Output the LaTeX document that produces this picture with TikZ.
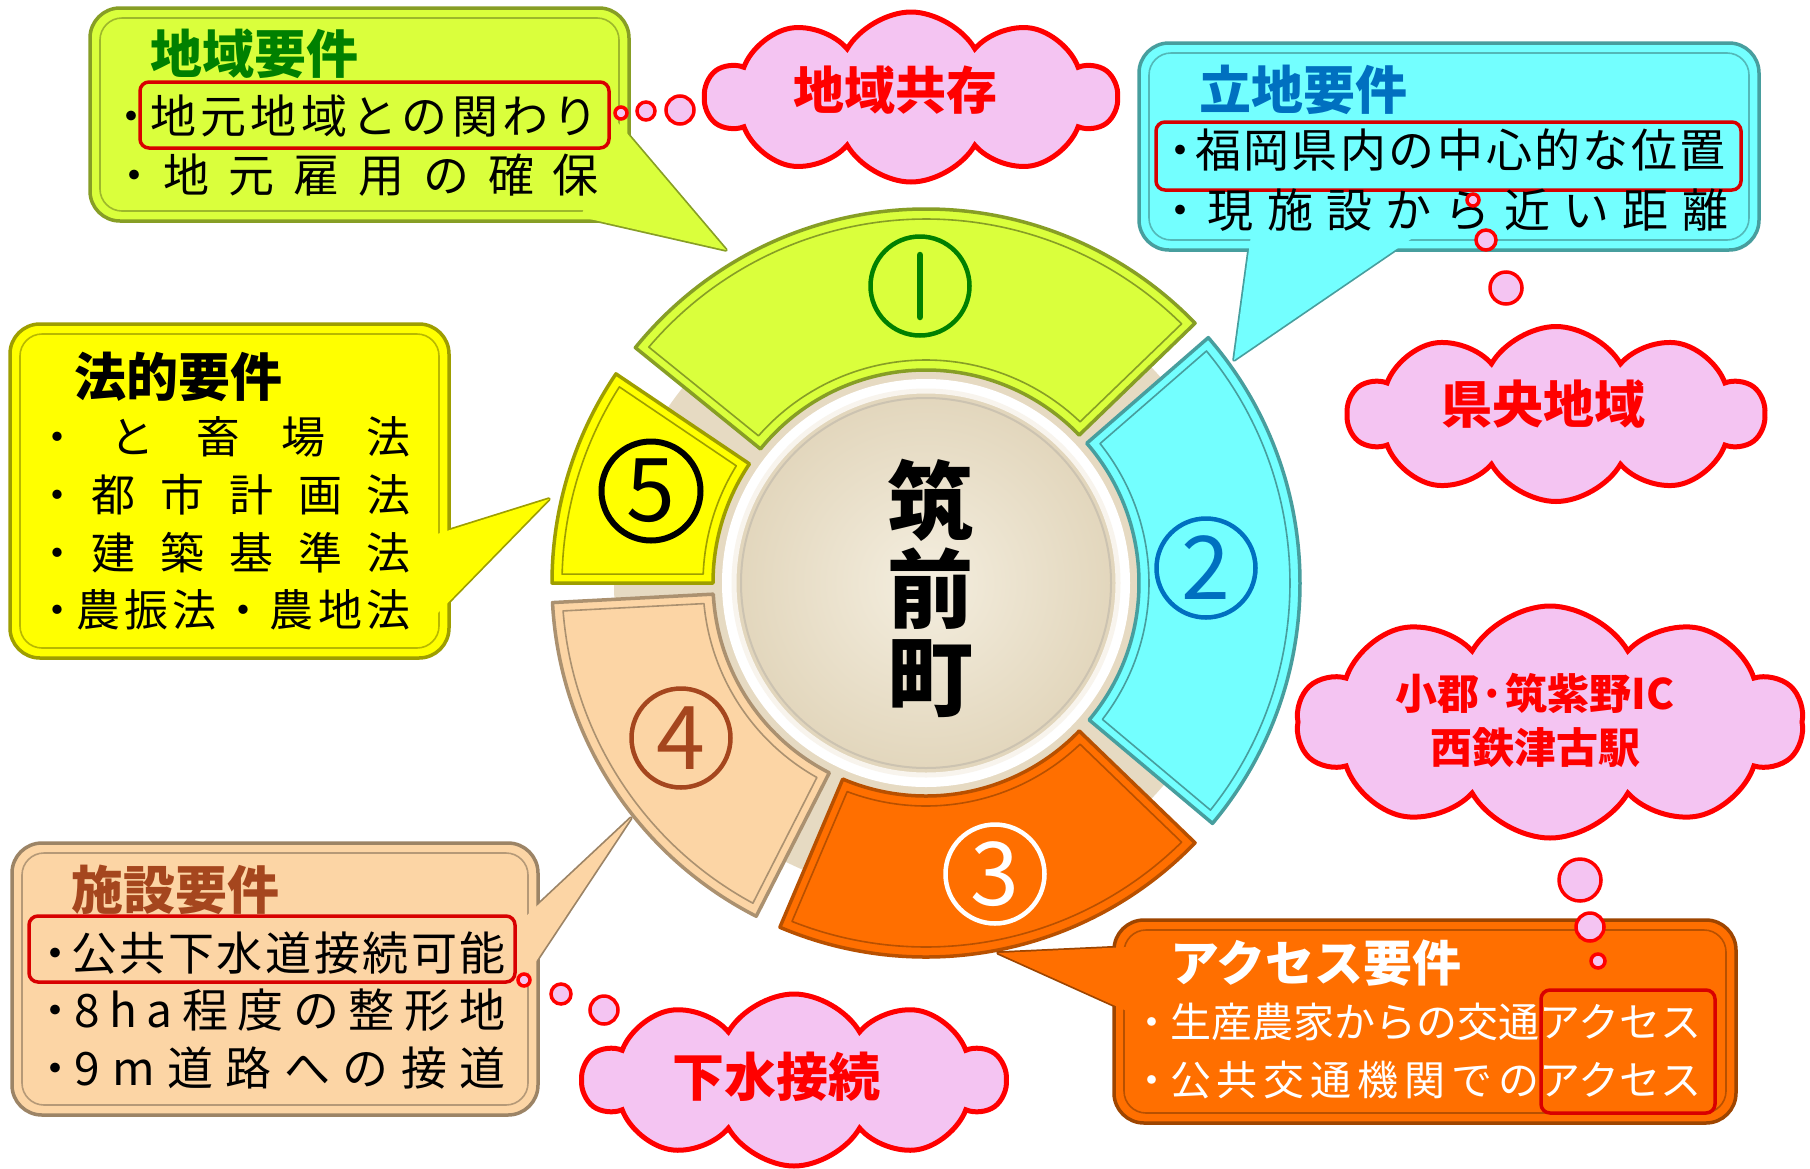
\documentclass[tikz,border=0pt]{standalone}
\usepackage{fontspec}
\setmainfont{Noto Sans CJK JP}
\usetikzlibrary{shapes.symbols,calc}
\definecolor{limeA}{HTML}{DAFF3C}
\definecolor{cyanA}{HTML}{73FFFF}
\definecolor{orangeA}{HTML}{FF6F00}
\definecolor{peachA}{HTML}{FCD5A5}
\definecolor{yellowA}{HTML}{FFFF00}
\definecolor{pinkA}{HTML}{F4C4F2}
\definecolor{redA}{HTML}{FF0000}
\definecolor{beigeA}{HTML}{E6DAC2}
\definecolor{beigeB}{HTML}{F4EEDF}
\definecolor{beigeC}{HTML}{E2D6BC}
\definecolor{greenT}{HTML}{008000}
\definecolor{blueT}{HTML}{0070C0}
\definecolor{brownT}{HTML}{A5461E}
\definecolor{hlred}{HTML}{D80000}
\newcommand{\myfs}[1]{\fontsize{#1}{#1}\selectfont}
\newcommand{\dist}[2]{\makebox[#1pt][s]{#2}}
\newcommand{\bl}[2]{\makebox[#1pt]{・}\hspace{#2pt}}
\newcommand{\ringseg}[4]{%
  \draw[line width=3.5, draw=#4, fill=#3, line join=round]
    ($(C)+({-(#1)}:374)$) arc[start angle={-(#1)}, end angle={-(#2)}, radius=374]
    -- ($(C)+({-(#2)}:213)$) arc[start angle={-(#2)}, end angle={-(#1)}, radius=213] -- cycle;
  \draw[line width=1.6, draw=#4, line join=round]
    ($(C)+({-(#1+1.4)}:364)$) arc[start angle={-(#1+1.4)}, end angle={-(#2-1.4)}, radius=364]
    -- ($(C)+({-(#2-2.3)}:223)$) arc[start angle={-(#2-2.3)}, end angle={-(#1+2.3)}, radius=223] -- cycle;
}
\tikzset{
  cbord/.style={line width=3.5, draw=#1!62!black, fill=#1, line join=round},
  cinner/.style={line width=1.6, draw=#1!72!black, rounded corners=22},
  ln/.style={anchor=west, inner sep=0, outer sep=0},
  ttl/.style={anchor=west, inner sep=0, outer sep=0, font=\myfs{52}\bfseries},
  hl/.style={draw=hlred, line width=3.5, rounded corners=9},
  numring/.style={circle, line width=4.5, minimum size=99, inner sep=0},
  cloudbox/.style={cloud, cloud puffs=10, cloud puff arc=120, draw=redA, line width=5, fill=pinkA, inner sep=0},
  bubble/.style={circle, draw=redA, line width=3.5, fill=pinkA, inner sep=0},
  ctext/.style={inner sep=0, text=redA},
}
\begin{document}
\begin{tikzpicture}[x=1pt,y=-1pt]
\useasboundingbox (0,0) rectangle (1810,1168);
\fill[white] (0,0) rectangle (1810,1168);
\coordinate (C) at (926,583);
% ring background
\fill[beigeA] (C) circle[radius=312];
\fill[white] (C) circle[radius=204];
\shade[inner color=beigeB, outer color=beigeC] (C) circle[radius=190];
\draw[line width=5, draw=white!70!beigeA] (C) circle[radius=192];
\draw[line width=2, draw=beigeA!75!gray] (C) circle[radius=185];
% segments
\ringseg{44}{141}{limeA}{limeA!62!black}
\ringseg{-40}{41}{cyanA}{cyanA!62!black}
\ringseg{-113}{-44}{orangeA}{orangeA!72!black}
\ringseg{183}{243}{peachA}{peachA!68!black}
\ringseg{146}{180}{yellowA}{yellowA!62!black}
% numbers
\node[numring, draw=greenT] (n1) at (920,286) {};
\draw[greenT, line width=6.5, line cap=round] ($(n1.center)+(0,-31)$) -- ($(n1.center)+(0,31)$);
\node[numring, draw=blueT, text=blueT, font=\myfs{88}] (n2) at (1206,568) {2};
\node[numring, draw=white, text=white, font=\myfs{88}] (n3) at (995,874) {3};
\node[numring, draw=brownT, text=brownT, font=\myfs{88}] (n4) at (681,738) {4};
\node[numring, draw=black, text=black, line width=6, font=\myfs{88}] (n5) at (651,491) {5};
% centre
\node[font=\fontsize{86}{88}\selectfont\bfseries, align=center, inner sep=0] (town) at (930,588) {筑\\前\\町};
% callout 1
\draw[cbord=limeA] (614,118) -- (726,250) -- (581,217) -- cycle;
\draw[cbord=limeA, rounded corners=30] (90,8) rectangle (629,221);
\draw[cinner=limeA] (100,18) rectangle (619,211);
\fill[limeA] (614,118) -- (726,250) -- (581,217) -- cycle;
% callout 2
\draw[cbord=cyanA] (1251,235) -- (1234,360) -- (1417,235) -- cycle;
\draw[cbord=cyanA, rounded corners=30] (1139,43) rectangle (1759,250);
\draw[cinner=cyanA] (1149,53) rectangle (1749,240);
\fill[cyanA] (1251,235) -- (1234,360) -- (1417,235) -- cycle;
% callout 5
\draw[cbord=yellowA] (434,535) -- (549,499) -- (434,617) -- cycle;
\draw[cbord=yellowA, rounded corners=30] (10,324) rectangle (449,658);
\draw[cinner=yellowA] (20,334) rectangle (439,648);
\fill[yellowA] (434,535) -- (549,499) -- (434,617) -- cycle;
% callout 4
\draw[cbord=peachA] (523,919) -- (631,818) -- (523,981) -- cycle;
\draw[cbord=peachA, rounded corners=30] (12,843) rectangle (538,1115);
\draw[cinner=peachA] (22,853) rectangle (528,1105);
\fill[peachA] (523,919) -- (631,818) -- (523,981) -- cycle;
% callout 3
\draw[cbord=orangeA] (1129,947) -- (998,953) -- (1129,1012) -- cycle;
\draw[cbord=orangeA, rounded corners=30] (1114,920) rectangle (1736,1123);
\draw[cinner=orangeA] (1124,930) rectangle (1726,1113);
\fill[orangeA] (1129,947) -- (998,953) -- (1129,1012) -- cycle;
% highlight frames
\draw[hl] (140,82) rectangle (609,148);
\draw[hl] (1156,122) rectangle (1741,190);
\draw[hl] (29,916) rectangle (515,982);
\draw[hl] (1541,990) rectangle (1715,1113);
% titles
\node[ttl, text=greenT] (t1) at (150,54) {地域要件};
\node[ttl, text=blueT] (t2) at (1199,90) {立地要件};
\node[ttl, text=black] (t5) at (74,377) {法的要件};
\node[ttl, text=brownT] (t4) at (71,890) {施設要件};
\node[ttl, text=white, font=\myfs{49}\bfseries] (t3) at (1170,963) {アクセス要件};
% lines box 1
\node[ln, font=\myfs{46}] (l11) at (108,116) {\bl{46}{-4}\dist{449}{地\hfill 元\hfill 地\hfill 域\hfill と\hfill の\hfill 関\hfill わ\hfill り}};
\node[ln, font=\myfs{46}] (l12) at (111,175) {\bl{46}{7}\dist{435}{地\hfill 元\hfill 雇\hfill 用\hfill の\hfill 確\hfill 保}};
% lines box 2
\node[ln, font=\myfs{46}] (l21) at (1157,150) {\bl{46}{-8}\dist{531}{福\hfill 岡\hfill 県\hfill 内\hfill の\hfill 中\hfill 心\hfill 的\hfill な\hfill 位\hfill 置}};
\node[ln, font=\myfs{46}] (l22) at (1157,210) {\bl{46}{5}\dist{520}{現\hfill 施\hfill 設\hfill か\hfill ら\hfill 近\hfill い\hfill 距\hfill 離}};
% lines box 5
\node[ln, font=\myfs{44}] (l51) at (35,437) {\bl{44}{32}\dist{300}{と\hfill 畜\hfill 場\hfill 法}};
\node[ln, font=\myfs{44}] (l52) at (35,495) {\bl{44}{13}\dist{319}{都\hfill 市\hfill 計\hfill 画\hfill 法}};
\node[ln, font=\myfs{44}] (l53) at (35,553) {\bl{44}{13}\dist{319}{建\hfill 築\hfill 基\hfill 準\hfill 法}};
\node[ln, font=\myfs{44}] (l54) at (35,610) {\bl{44}{-3}\dist{335}{農\hfill 振\hfill 法\hfill ・\hfill 農\hfill 地\hfill 法}};
% lines box 4
\node[ln, font=\myfs{46}] (l41) at (32,953) {\bl{46}{-7}\dist{435}{公\hfill 共\hfill 下\hfill 水\hfill 道\hfill 接\hfill 続\hfill 可\hfill 能}};
\node[ln, font=\myfs{46}] (l42) at (32,1010) {\bl{46}{-4}\dist{432}{8\hfill h\hfill a\hfill 程\hfill 度\hfill の\hfill 整\hfill 形\hfill 地}};
\node[ln, font=\myfs{46}] (l43) at (32,1068) {\bl{46}{-4}\dist{432}{9\hfill m\hfill 道\hfill 路\hfill へ\hfill の\hfill 接\hfill 道}};
% lines box 3
\node[ln, font=\myfs{41}, text=white] (l31) at (1131.5,1022) {\bl{41}{-2.5}生産農家からの交通アクセス};
\node[ln, font=\myfs{41}, text=white] (l32) at (1131.5,1080) {\bl{41}{-2.5}\dist{369}{公\hfill 共\hfill 交\hfill 通\hfill 機\hfill 関\hfill で\hfill の}アクセス};
% clouds
\node[cloudbox, minimum width=411, minimum height=170] (c1) at (911,97) {};
\node[cloudbox, minimum width=416, minimum height=175] (c2) at (1556,414) {};
\node[cloudbox, minimum width=506, minimum height=232] (c3) at (1550,722) {};
\node[cloudbox, minimum width=422, minimum height=172] (c4) at (794,1080) {};
\node[ctext, font=\myfs{51}\bfseries] (c1t) at (895,90) {地域共存};
\node[ctext, font=\myfs{51}\bfseries] (c2t) at (1543,404) {県央地域};
\node[ctext, font=\fontsize{42}{54}\selectfont\bfseries, align=center] (c3t) at (1535,720) {小郡·筑紫野IC\\西鉄津古駅};
\node[ctext, font=\myfs{52}\bfseries] (c4t) at (776,1077) {下水接続};
% bubbles
\node[bubble, minimum size=12] (b11) at (621,113) {};
\node[bubble, minimum size=18] (b12) at (646,111) {};
\node[bubble, minimum size=28] (b13) at (680,110) {};
\node[bubble, minimum size=12] (b21) at (1473,200) {};
\node[bubble, minimum size=20] (b22) at (1486,240) {};
\node[bubble, minimum size=32] (b23) at (1506,288) {};
\node[bubble, minimum size=42] (b31) at (1580,880) {};
\node[bubble, minimum size=28] (b32) at (1590,927) {};
\node[bubble, minimum size=14] (b33) at (1598,961) {};
\node[bubble, minimum size=12] (b41) at (524,980) {};
\node[bubble, minimum size=20] (b42) at (561,994) {};
\node[bubble, minimum size=28] (b43) at (604,1010) {};
\end{tikzpicture}
\end{document}
